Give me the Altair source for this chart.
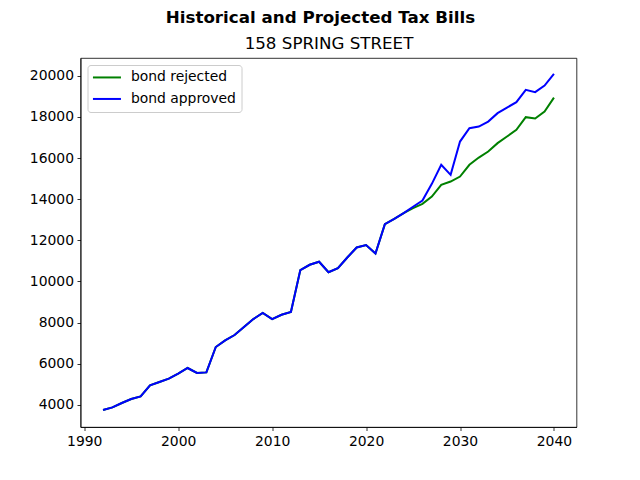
import altair as alt
import pandas as pd

years = list(range(1992, 2041))

approved = [3757, 3883, 4097, 4291, 4418, 4952, 5117, 5277, 5520, 5797,
            5554, 5583, 6816, 7137, 7399, 7788, 8176, 8468, 8176, 8385,
            8516, 10556, 10813, 10959, 10449, 10653, 11167, 11653, 11770, 11362,
            12789, 13047, 13324, 13630, 13935, 14746, 15669, 15183, 16800, 17451,
            17529, 17772, 18180, 18452, 18714, 19311, 19199, 19520, 20088]

rejected_tail = [13324, 13566, 13775, 14130, 14698, 14858, 15101, 15669, 16023, 16315,
                 16723, 17043, 17369, 17985, 17917, 18257, 18937]
rejected = approved[:32] + rejected_tail

series_names = ["bond rejected", "bond approved"]
series_colors = ["#008000", "#0000ff"]
x_ticks = [1990, 2000, 2010, 2020, 2030, 2040]
y_ticks = [4000, 6000, 8000, 10000, 12000, 14000, 16000, 18000, 20000]

df = pd.DataFrame({
    "year": years * 2,
    "value": rejected + approved,
    "series": [series_names[0]] * len(years) + [series_names[1]] * len(years),
})

FONT = "DejaVu Sans"

color = alt.Color(
    "series:N",
    scale=alt.Scale(domain=series_names, range=series_colors),
    legend=alt.Legend(
        title=None, orient="top-left", offset=7,
        symbolType="M-2.8,0H2.8", symbolSize=100, symbolStrokeWidth=2,
        symbolOffset=7,
        labelFontSize=13.9, labelFont=FONT, labelColor="black",
        labelOffset=17, rowPadding=6.5,
        padding=5.5, fillColor="white", strokeColor="#cccccc",
        cornerRadius=3,
    ),
)

xscale = alt.Scale(domain=[1989.6, 2042.4], nice=False, zero=False)
y = alt.Y("value:Q", scale=alt.Scale(domain=[2930, 20860], nice=False, zero=False),
          axis=alt.Axis(values=y_ticks, format="d", title=None))

x_bottom = alt.X("year:Q", scale=xscale,
                 axis=alt.Axis(values=x_ticks, format="d", title=None))
x_top = alt.X("year:Q", scale=xscale,
              axis=alt.Axis(orient="top", title="158 SPRING STREET",
                            labels=False, ticks=False, domain=False,
                            titleFont=FONT, titleFontSize=16.7,
                            titleFontWeight="normal", titleColor="black",
                            titleBaseline="alphabetic", titlePadding=9.5))

rejected_layer = alt.Chart(df).mark_line(strokeWidth=2).encode(
    x=x_bottom, y=y, color=color
).transform_filter(alt.datum.series == series_names[0])

approved_layer = alt.Chart(df).mark_line(strokeWidth=2).encode(
    x=x_top, y=y, color=color
).transform_filter(alt.datum.series == series_names[1])

chart = alt.layer(rejected_layer, approved_layer).resolve_axis(
    x="independent"
).properties(
    width=496, height=369,
    background="white",
    title=alt.TitleParams(
        text="Historical and Projected Tax Bills",
        font=FONT, fontSize=16.7, fontWeight="bold", color="black",
        anchor="middle", dx=-8, dy=14, baseline="alphabetic", offset=10,
    ),
    autosize=alt.AutoSizeParams(type="none"),
    padding={"left": 72.5, "top": 50, "right": 55, "bottom": 45},
).configure_view(
    stroke="black", strokeWidth=0.8
).configure_axis(
    grid=False, domainColor="black", domainWidth=0.8,
    tickColor="black", tickWidth=0.8, tickSize=3.5,
    labelFont=FONT, labelFontSize=13.9, labelColor="black", labelPadding=3.5,
)

chart.save("out.html", embed_options={"renderer": "svg", "actions": False})
